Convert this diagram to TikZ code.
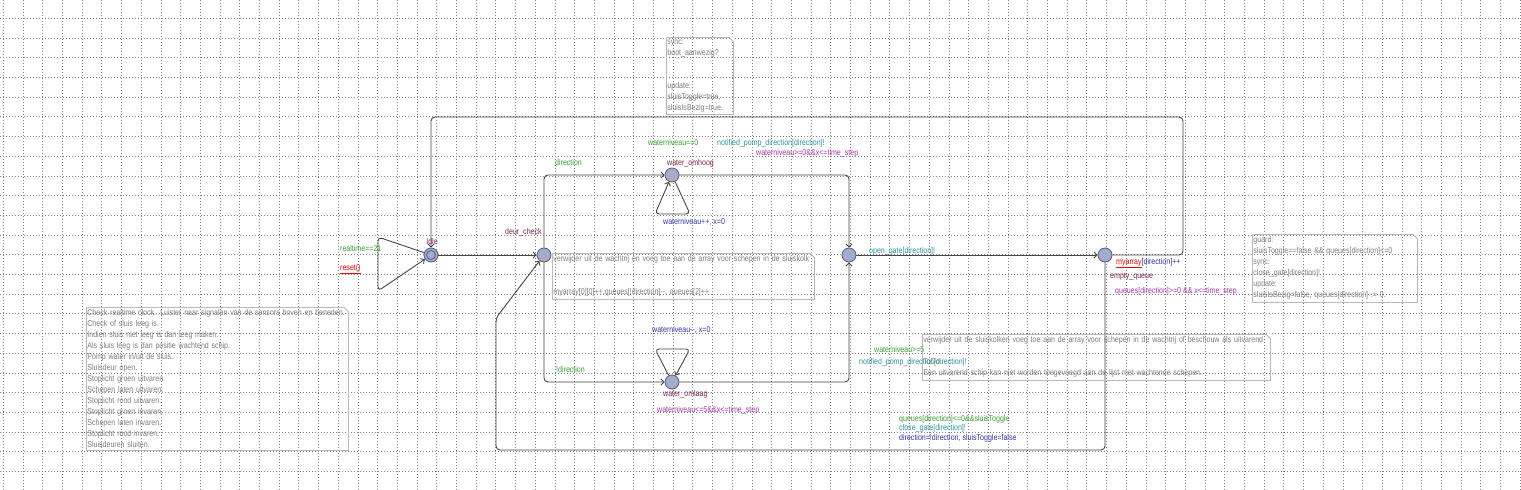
\documentclass[tikz,border=0pt]{standalone}
\usepackage{fontspec}
\newfontfamily\uppaalfont{Liberation Sans}[FakeStretch=0.84]
\usetikzlibrary{arrows.meta}

\definecolor{raster}{RGB}{128,128,128}
\definecolor{lijn}{RGB}{70,70,70}
\definecolor{locvul}{RGB}{164,171,204}
\definecolor{locrand}{RGB}{84,90,122}
\definecolor{naamkleur}{RGB}{125,35,80}
\definecolor{guardkleur}{RGB}{52,160,52}
\definecolor{synckleur}{RGB}{38,150,160}
\definecolor{updkleur}{RGB}{50,50,170}
\definecolor{invkleur}{RGB}{170,50,170}
\definecolor{fout}{RGB}{235,0,0}
\definecolor{notitierand}{RGB}{185,185,185}
\definecolor{notitietekst}{RGB}{125,125,125}

\newcommand{\ezelsoor}[1]{%
	\fill[white] ([xshift=-5pt]#1.north east) -- ([xshift=1pt,yshift=1pt]#1.north east) -- ([yshift=-5pt]#1.north east) -- cycle;
	\draw[notitierand,line width=0.8pt] ([xshift=-5pt]#1.north east) -- ([yshift=-5pt]#1.north east);}

\tikzset{
	raster/.style={draw=raster, line width=0.7pt, dash pattern=on 0.8pt off 2.2pt},
	loc/.style={circle, draw=locrand, fill=locvul, line width=0.8pt, minimum size=14pt, inner sep=0pt},
	edge/.style={draw=lijn, line width=0.9pt, rounded corners=4pt, -{Straight Barb[length=3pt,width=6pt]}},
	lbl/.style={anchor=base west, inner sep=0pt, font=\uppaalfont\fontsize{8.4}{11}\selectfont},
	naam/.style={lbl, text=naamkleur},
	guard/.style={lbl, text=guardkleur},
	sync/.style={lbl, text=synckleur},
	upd/.style={lbl, text=updkleur},
	inv/.style={lbl, text=invkleur},
	notitie/.style={draw=notitierand, line width=0.8pt, text=notitietekst, anchor=north west, align=left,
		inner xsep=1pt, inner ysep=2.5pt, font=\uppaalfont\fontsize{8.4}{11}\selectfont}
}

\begin{document}
\begin{tikzpicture}[x=1pt,y=-1pt]
	\useasboundingbox[fill=white] (0,0) rectangle (1521,490);
	\foreach \i in {0,...,77}
		\draw[raster] ({3.3+19.7*\i},0) -- ({3.3+19.7*\i},490);
	\foreach \j in {0,...,23}
		\draw[raster] (0,{18.3+19.7*\j}) -- (1521,{18.3+19.7*\j});

	\node[loc] (idle) at (431,255) {};
	\draw[locrand, line width=0.8pt] (idle) circle[radius=4.5pt];
	\node[loc] (deurcheck) at (544,255) {};
	\node[loc] (omhoog) at (672,175) {};
	\node[loc] (omlaag) at (672,382) {};
	\node[loc] (pomp) at (849,255) {};
	\node[loc] (leeg) at (1105,255) {};

	\draw[edge] (idle) -- (378,237) -- (378,291) -- (idle);
	\draw[edge] (idle) -- (deurcheck);
	\draw[edge] (deurcheck) -- (544,175) -- (omhoog);
	\draw[edge] (deurcheck) -- (544,382) -- (omlaag);
	\draw[edge] (omhoog) -- (690,214) -- (655,214) -- (omhoog);
	\draw[edge] (omlaag) -- (655,349) -- (690,349) -- (omlaag);
	\draw[edge] (omhoog) -- (849,175) -- (pomp);
	\draw[edge] (omlaag) -- (849,382) -- (pomp);
	\draw[edge] (pomp) -- (leeg);
	\draw[edge] (leeg) -- (1183,255) -- (1183,117) -- (431,117) -- (idle);
	\draw[edge] (leeg) -- (1105,450) -- (496,450) -- (496,318) -- (deurcheck);

	\node[naam, anchor=base] (idlenaam) at (432,244) {Idle};
	\node[naam] (deurnaam) at (505,234) {deur\_check};
	\node[naam] (omhoognaam) at (667,165) {water\_omhoog};
	\node[naam] (omlaagnaam) at (663,396) {water\_omlaag};
	\node[naam] (leegnaam) at (1110,278) {empty\_queue};

	\node[guard] (g1) at (340,251) {realtime==21};
	\node[lbl, text=fout] (u1) at (340,270) {\underline{reset()}};
	\node[guard] (g2) at (555,165) {direction};
	\node[guard] (g3) at (556,372) {!direction};
	\node[guard] (g4) at (648,145) {waterniveau==0};
	\node[sync] (s4) at (717,145) {notified\_pomp\_direction[direction]!};
	\node[inv] (i1) at (756,155) {waterniveau>=0\&\&x<=time\_step};
	\node[upd] (u2) at (663,224) {waterniveau++, x=0};
	\node[upd] (u3) at (652,332) {waterniveau-{}-, x=0};
	\node[inv] (i2) at (657,412) {waterniveau<=5\&\&x<=time\_step};
	\node[guard] (g5) at (874,352) {waterniveau>=5};
	\node[sync] (s5) at (859,364) {notified\_pomp\_direction[direction]!};
	\node[sync] (s6) at (869,253) {open\_gate[direction]!};
	\node[upd] (u4) at (1116,264) {\textcolor{fout}{\underline{myarray}}[direction]++};
	\node[inv] (i3) at (1115,293) {queues[direction]>=0 \&\& x<=time\_step};
	\node[guard] (g6) at (899,421) {queues[direction]<=0\&\&sluisToggle};
	\node[sync] (s7) at (899,430) {close\_gate[direction]!};
	\node[upd] (u5) at (899,440) {direction=!direction, sluisToggle=false};

	\node[notitie, text width=65pt] (boot) at (666,37) {sync:\\boot\_aanwezig?\\[22pt]update:\\sluisToggle=true,\\sluisIsBezig=true.};
	\ezelsoor{boot}
	\node[notitie, text width=260pt] (uitleg) at (86,307) {Check realtime clock. Luister naar signalen van de sensors boven en beneden.\\Check of sluis leeg is.\\Indien sluis niet leeg is dan leeg maken.\\Als sluis leeg is dan positie wachtend schip.\\Pomp water in/uit de sluis.\\Sluisdeur open.\\Stoplicht groen uitvaren.\\Schepen laten uitvaren.\\Stoplicht rood uitvaren.\\Stoplicht groen invaren.\\Schepen laten invaren.\\Stoplicht rood invaren.\\Sluisdeuren sluiten.};
	\ezelsoor{uitleg}
	\node[notitie, text width=260pt] (wachtrij) at (552,253) {verwijder uit de wachtrij en voeg toe aan de array voor schepen in de sluiskolk\\[22pt]myarray[0][0]++,queues[!direction]-{}-, queues[2]++};
	\ezelsoor{wachtrij}
	\node[notitie, text width=346pt] (todo) at (922,334) {verwijder uit de sluiskolken voeg toe aan de array voor schepen in de wachtrij of beschouw als uitvarend\\[11pt]ToDo:\\Een uitvarend schip kan niet worden toegevoegd aan de lijst met wachtende schepen.};
	\ezelsoor{todo}
	\node[notitie, text width=163pt] (sluit) at (1252,234) {guard:\\sluisToggle==false \&\& queues[direction]<=0\\sync:\\close\_gate[direction]!\\update:\\sluisIsBezig=false, queues[direction] := 0.};
	\ezelsoor{sluit}
\end{tikzpicture}
\end{document}
